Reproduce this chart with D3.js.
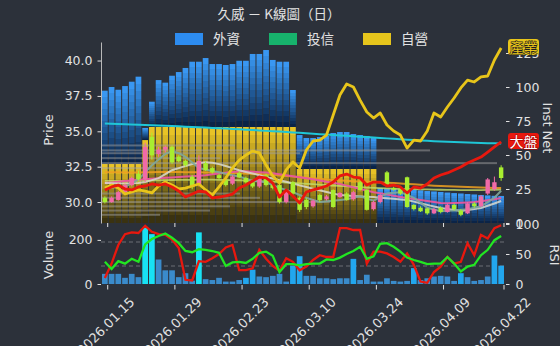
<!DOCTYPE html>
<html>
<head>
<meta charset="utf-8">
<script src="https://cdn.jsdelivr.net/npm/d3@7"></script>
<style>
  body { margin: 0; background: #2c313a; }
  svg { display: block; font-family: "DejaVu Sans", "Noto Sans CJK TC", sans-serif; }
</style>
</head>
<body>
<svg id="chart" width="560" height="346"></svg>
<script>
// trading days shown on the chart
const dates = ["2026.01.15","2026.01.16","2026.01.19","2026.01.20","2026.01.21","2026.01.22","2026.01.23","2026.01.26","2026.01.27","2026.01.28",
  "2026.01.29","2026.01.30","2026.02.02","2026.02.03","2026.02.04","2026.02.05","2026.02.06","2026.02.09","2026.02.10","2026.02.11",
  "2026.02.23","2026.02.24","2026.02.25","2026.02.26","2026.03.02","2026.03.03","2026.03.04","2026.03.05","2026.03.06","2026.03.09",
  "2026.03.10","2026.03.11","2026.03.12","2026.03.13","2026.03.16","2026.03.17","2026.03.18","2026.03.19","2026.03.20","2026.03.23",
  "2026.03.24","2026.03.25","2026.03.26","2026.03.27","2026.03.30","2026.03.31","2026.04.01","2026.04.02","2026.04.07","2026.04.08",
  "2026.04.09","2026.04.10","2026.04.13","2026.04.14","2026.04.15","2026.04.16","2026.04.17","2026.04.20","2026.04.21","2026.04.22"];
const tickDates = ["2026.01.15","2026.01.29","2026.02.23","2026.03.10","2026.03.24","2026.04.09","2026.04.22"];

// daily candles
const openP = [30.3,30.0,30.15,30.7,31.2,32.0,31.6,34.6,33.4,33.7,33.9,33.2,32.9,31.8,31.2,32.75,32.4,31.9,31.55,31.3,
  32.05,31.7,31.4,31.1,31.9,31.2,31.2,30.0,31.4,30.3,30.15,29.7,30.5,30.2,30.85,30.35,30.6,30.2,31.4,30.85,
  29.5,30.0,32.1,31.0,30.9,31.75,29.8,29.6,29.55,29.2,29.6,29.3,29.8,29.4,29.2,29.9,29.7,30.6,30.9,32.45];
const highP = [30.4,30.4,30.8,31.3,31.8,32.2,34.2,34.9,33.9,34.0,34.0,33.3,33.0,31.9,33.3,32.9,32.5,32.0,31.7,31.9,
  32.2,31.8,31.6,31.9,32.0,31.4,31.3,30.9,31.5,30.4,30.3,30.2,30.6,30.5,30.9,30.7,30.7,30.8,31.5,30.9,
  30.1,30.6,32.2,31.1,31.0,31.8,29.85,29.7,29.6,29.6,29.7,29.9,29.9,29.5,30.0,30.0,30.5,31.7,31.8,32.6];
const lowP = [29.9,29.95,30.1,30.6,31.1,31.5,31.4,33.0,33.2,33.5,32.7,32.8,32.5,30.9,31.1,32.2,32.0,31.6,31.1,31.2,
  31.7,31.3,31.0,31.0,31.1,30.9,29.9,29.9,30.5,29.3,29.5,29.6,30.0,30.1,29.6,30.3,30.1,30.1,30.8,29.4,
  29.4,29.9,31.1,30.8,30.5,29.6,29.4,29.3,29.1,29.15,29.2,29.25,29.4,29.0,29.15,29.6,29.65,30.5,30.8,31.5];
const closeP = [30.0,30.3,30.7,31.2,31.7,31.6,33.9,33.3,33.7,33.9,32.8,32.9,32.6,31.05,32.9,32.25,32.1,31.7,31.2,31.8,
  31.75,31.4,31.1,31.8,31.2,31.0,30.0,30.8,30.6,29.45,29.65,30.1,30.15,30.4,29.65,30.65,30.15,30.7,30.85,29.45,
  30.0,30.5,31.2,30.9,30.6,29.65,29.5,29.35,29.2,29.5,29.3,29.8,29.5,29.1,29.9,29.7,30.4,31.6,31.4,31.7];

// moving averages
const maCyan = [35.55,35.54,35.52,35.50,35.48,35.47,35.45,35.43,35.41,35.39,35.37,35.35,35.33,35.30,35.28,35.26,35.23,35.21,35.19,35.16,
  35.14,35.11,35.09,35.06,35.03,35.01,34.98,34.95,34.92,34.89,34.86,34.83,34.80,34.77,34.74,34.71,34.68,34.65,34.62,34.59,
  34.56,34.53,34.50,34.47,34.44,34.41,34.38,34.35,34.33,34.30,34.28,34.26,34.24,34.22,34.20,34.19,34.17,34.16,34.15,34.14];
const maOrange = [32.10,32.10,32.10,32.09,32.09,32.09,32.10,32.11,32.12,32.12,32.12,32.12,32.11,32.10,32.10,32.09,32.08,32.07,32.06,32.05,
  32.04,32.02,32.00,31.98,31.95,31.92,31.88,31.84,31.80,31.76,31.72,31.68,31.64,31.60,31.56,31.53,31.50,31.47,31.45,31.43,
  31.41,31.39,31.37,31.34,31.31,31.28,31.25,31.22,31.19,31.16,31.14,31.12,31.10,31.08,31.06,31.04,31.02,31.01,31.00,30.99];
const maPink = [31.34,31.38,31.43,31.48,31.52,31.57,31.62,31.65,31.68,31.71,31.74,31.77,31.80,31.83,31.86,31.90,31.96,32.02,32.08,32.13,
  32.18,32.17,32.14,32.11,32.08,32.04,31.97,31.90,31.83,31.76,31.69,31.61,31.52,31.44,31.36,31.27,31.16,31.04,30.92,30.81,
  30.70,30.62,30.53,30.45,30.36,30.28,30.21,30.14,30.07,30.00,29.93,29.92,29.93,29.95,29.97,30.00,30.06,30.13,30.20,30.28];
const maWhite = [31.34,31.33,31.32,31.32,31.33,31.34,31.42,31.55,31.69,31.97,32.25,32.40,32.55,32.68,32.76,32.82,32.77,32.68,32.55,32.40,
  32.25,32.13,32.02,31.90,31.78,31.66,31.55,31.43,31.31,31.18,31.06,30.94,30.83,30.71,30.60,30.49,30.46,30.43,30.40,30.37,
  30.35,30.31,30.27,30.23,30.18,30.14,30.03,29.92,29.80,29.69,29.58,29.51,29.44,29.37,29.44,29.51,29.58,29.74,29.90,30.07];
const maTeal = [31.00,31.02,31.05,31.10,31.30,31.60,32.10,32.60,33.00,33.40,33.60,33.45,33.20,32.80,32.40,32.30,32.20,32.10,32.00,31.90,
  31.80,31.65,31.50,31.45,31.40,31.20,31.00,30.85,30.70,30.50,30.30,30.15,30.00,30.05,30.10,30.15,30.20,30.30,30.40,30.25,
  30.10,30.35,30.60,30.65,30.70,30.50,30.30,29.95,29.60,29.48,29.35,29.38,29.40,29.45,29.50,29.60,29.70,30.00,30.30,30.80];
const maLime = [31.50,31.50,31.50,31.50,31.51,31.51,31.52,31.53,31.54,31.55,31.56,31.57,31.57,31.57,31.58,31.58,31.58,31.57,31.56,31.55,
  31.54,31.52,31.50,31.48,31.46,31.44,31.41,31.38,31.35,31.32,31.29,31.26,31.23,31.20,31.17,31.14,31.11,31.08,31.05,31.02,
  31.00,30.98,30.96,30.94,30.93,30.92,30.91,30.90,30.89,30.88,30.87,30.86,30.86,30.85,30.85,30.85,30.85,30.86,30.87,30.88];

// institutional net (stacked bars, right axis)
const instNames = ["外資", "投信", "自營"];
const foreignNet = [53.9,56.6,54.6,57.3,60.5,64.2,8.9,18.6,34.5,32.6,37.7,40.4,43.4,48,48,50.7,46.3,46.3,45.6,46.3,
  48.7,48.7,53.7,53.7,56.6,49.3,48,48,27.2,25,22.8,22.8,23.5,24.3,26.5,27.2,27.2,25.7,25,24.3,
  22.8,25.7,25.5,25.3,25,24.6,24.3,24,23.5,23.2,22.8,22.4,22,21.7,21.3,21,20.6,20.3,20,19.9];
const dealerNet = [43.4,43.4,43.4,43.4,43.4,43.4,61,70.6,70.6,70.6,70.6,70.6,70.6,70.6,70.6,70.6,70.6,70.6,70.6,70.6,
  70.6,70.6,70.6,70.6,70.6,70.6,70.6,70.6,70.6,39.7,39.7,39.7,39.7,39.7,39.7,39.7,39.7,39.7,39.7,39.7,
  39.7,0,0,0,0,0,0,0,0,0,0,0,0,0,0,0,0,0,0,0];

// relative strength lines (right axis)
const industryLine = [25.7,27.9,25.7,21.3,22.8,24.3,23.5,22.1,27.2,30.1,27.9,25.0,25.7,27.2,28.7,24.3,20.6,26.5,33.1,40.4,
  46.3,50.0,52.9,51.5,42.6,34.6,29.4,39.0,44.9,40.4,53.7,60.3,61.0,64.7,79.4,94.1,102.2,100.0,90.4,81.6,
  77.2,80.9,72.1,67.6,64.7,55.1,61.0,60.3,67.6,80.9,77.9,85.3,91.9,99.3,105.1,103.7,107.4,108.1,119.9,128.7];
const marketLine = [24.3,26.5,27.9,25.0,24.3,26.5,27.2,28.7,27.9,28.7,26.5,23.5,19.1,21.3,23.5,22.8,18.4,19.1,19.9,21.3,
  25.7,27.9,30.9,33.8,33.1,29.4,19.1,24.3,19.9,14.7,22.8,24.3,25.7,27.2,30.1,34.6,36.0,33.8,33.1,27.9,
  30.1,30.1,27.2,27.9,26.5,22.1,26.5,25.7,28.7,33.1,35.3,36.8,39.0,41.2,44.1,46.3,48.5,52.2,55.9,59.6];

// volume by price (horizontal gray bars)
const vpPrice = [34.0,33.65,33.45,33.1,32.75,32.4,30.6,30.3,30.0,29.7,29.4,29.1];
const vpVol = [134,329,199,119,396,79,139,159,229,129,109,59];

// lower panel
const volume = [46,46,46,28,46,31,254,226,111,62,62,31,49,15,234,22,18,28,11,11,
  18,28,65,34,31,37,46,11,83,126,37,37,26,26,22,26,26,114,18,42,
  11,11,26,14,11,14,72,18,26,34,37,34,14,49,31,14,18,34,129,83];
const rsiFast = [10,34,65,83,86,85,97,87,83,82,74,60,7,6,38,37,43,50,61,65,
  23,23,26,57,42,30,22,43,37,23,29,40,48,45,45,93,93,90,90,34,
  54,54,51,45,37,51,32,4,2,20,29,45,34,37,68,48,82,76,93,98];
const rsiSlow = [37,25,38,34,42,37,66,75,80,84,77,68,55,53,58,57,55,52,30,36,
  37,35,42,52,54,47,20,33,33,31,33,34,34,41,40,44,50,55,62,42,
  46,67,68,62,54,44,40,37,33,34,34,45,34,21,29,32,48,57,73,80];

const priceTicks = [30, 32.5, 35, 37.5, 40];
const instTicks = [0, 25, 50, 75, 100, 125];
const volTicks = [0, 200];
const rsiTicks = [0, 50, 100];

// ---- layout ----
const left = 101, right = 505;
const mainTop = 42, mainBot = 223, subTop = 224, subBot = 284;
const textColor = "#e2e2e2";

const svg = d3.select("#chart");
const defs = svg.append("defs");

const x = d3.scaleBand().domain(dates).range([left, right]).padding(0.15);
const xc = d => x(d) + x.bandwidth() / 2;
const yPrice = d3.scaleLinear().domain([28.52, 41.31]).range([mainBot, mainTop]);
const yInst = d3.scaleLinear().domain([0, 133.1]).range([mainBot, mainTop]);
const yVol = d3.scaleLinear().domain([0, 272]).range([subBot, subTop]);
const yRsi = d3.scaleLinear().domain([0, 100]).range([subBot, subTop]);
const vpX = d3.scaleLinear().domain([0, 400]).range([0, 400]);

// stepped vertical gradients for the inst bars
function stepGrad(id, top, bottom, n) {
  const g = defs.append("linearGradient").attr("id", id)
    .attr("x1", 0).attr("y1", 0).attr("x2", 0).attr("y2", 1);
  const ip = d3.interpolateRgb(top, bottom);
  for (let i = 0; i < n; i++) {
    const c = ip(i / (n - 1));
    g.append("stop").attr("offset", i / n).attr("stop-color", c);
    g.append("stop").attr("offset", (i + 1) / n).attr("stop-color", c);
  }
}
stepGrad("g-foreign", "#3997f2", "#0b2447", 12);
stepGrad("g-dealer", "#e8c326", "#3a3210", 12);

// title + legend
svg.append("text").attr("x", 279).attr("y", 19).attr("text-anchor", "middle")
  .attr("fill", textColor).style("font-size", "13.5px")
  .style("font-family", '"Noto Sans CJK TC", sans-serif')
  .text("久威 － K線圖（日）");

const legendColors = ["#2d8cf0", "#17b26c", "#e6c51c"];
const legendX = [175, 269, 363];
instNames.forEach((name, i) => {
  svg.append("rect").attr("x", legendX[i]).attr("y", 33).attr("width", 28).attr("height", 12)
    .attr("fill", legendColors[i]);
  svg.append("text").attr("x", legendX[i] + 38).attr("y", 44)
    .attr("fill", textColor).style("font-size", "13.5px")
    .style("font-family", '"Noto Sans CJK TC", sans-serif').text(name);
});

// stacked inst bars
const rows = dates.map((d, i) => ({ date: d, dealer: dealerNet[i], foreign: foreignNet[i] }));
const stacked = d3.stack().keys(["dealer", "foreign"])(rows);
svg.append("g").selectAll("g")
  .data(stacked)
  .join("g")
    .attr("fill", s => `url(#g-${s.key})`)
  .selectAll("rect")
  .data(s => s.filter(d => d[1] - d[0] > 0))
  .join("rect")
    .attr("x", d => x(d.data.date))
    .attr("width", x.bandwidth())
    .attr("y", d => yInst(d[1]))
    .attr("height", d => yInst(d[0]) - yInst(d[1]));

// volume by price
svg.append("g").selectAll("rect")
  .data(vpPrice)
  .join("rect")
    .attr("x", left)
    .attr("y", d => yPrice(d) - 1)
    .attr("width", (d, i) => vpX(vpVol[i]))
    .attr("height", 2)
    .attr("fill", "#a0a0a0")
    .attr("opacity", 0.5);

// moving averages
const priceLine = d3.line().x((d, i) => xc(dates[i])).y(d => yPrice(d));
const mas = [
  { v: maLime, c: "#c4df6a", w: 1.8, o: 0.8 },
  { v: maOrange, c: "#f0a020", w: 2, o: 0.85 },
  { v: maCyan, c: "#1fc6d6", w: 2, o: 1 },
  { v: maPink, c: "#e8559e", w: 2, o: 0.95 },
  { v: maWhite, c: "#d9d9cf", w: 2, o: 0.85 },
  { v: maTeal, c: "#7fa79b", w: 2, o: 0.9 }
];
svg.append("g").selectAll("path")
  .data(mas)
  .join("path")
    .attr("d", m => priceLine(m.v))
    .attr("fill", "none")
    .attr("stroke", m => m.c)
    .attr("stroke-width", m => m.w)
    .attr("opacity", m => m.o);

// candles
const up = "#f06aa8", down = "#a8ee30";
const candle = svg.append("g").selectAll("g")
  .data(dates)
  .join("g");
candle.append("line")
  .attr("x1", d => xc(d)).attr("x2", d => xc(d))
  .attr("y1", (d, i) => yPrice(highP[i])).attr("y2", (d, i) => yPrice(lowP[i]))
  .attr("stroke", (d, i) => closeP[i] >= openP[i] ? up : down)
  .attr("stroke-width", 1);
candle.append("rect")
  .attr("x", d => xc(d) - 2.2)
  .attr("width", 4.4)
  .attr("y", (d, i) => yPrice(Math.max(openP[i], closeP[i])))
  .attr("height", (d, i) => Math.max(1, Math.abs(yPrice(openP[i]) - yPrice(closeP[i]))))
  .attr("fill", (d, i) => closeP[i] >= openP[i] ? up : down);

// industry / market lines
const instLine = d3.line().x((d, i) => xc(dates[i])).y(d => yInst(d));
svg.append("path").attr("d", instLine(industryLine))
  .attr("fill", "none").attr("stroke", "#e8c51a").attr("stroke-width", 2.8)
  .attr("stroke-linejoin", "round");
svg.append("path").attr("d", instLine(marketLine))
  .attr("fill", "none").attr("stroke", "#e8180e").attr("stroke-width", 2.8)
  .attr("stroke-linejoin", "round");

// axes
function styleAxis(g) {
  g.attr("font-family", null).attr("font-size", null);
  g.selectAll("text").attr("fill", textColor).style("font-size", "12.5px");
  g.selectAll("line").attr("stroke", textColor);
}
svg.append("g").attr("transform", `translate(${left},0)`)
  .call(d3.axisLeft(yPrice).tickValues(priceTicks).tickFormat(d3.format(".1f")).tickSize(3.5).tickPadding(5).tickSizeOuter(0))
  .call(styleAxis)
  .call(g => g.select(".domain").attr("stroke", "#b8b8b8"));
svg.append("g").attr("transform", `translate(${right + 1},0)`)
  .call(d3.axisRight(yInst).tickValues(instTicks).tickSize(3.5).tickPadding(6))
  .call(styleAxis)
  .call(g => g.select(".domain").remove());
svg.append("g")
  .call(d3.axisBottom(x).tickValues(tickDates).tickFormat("").tickSize(4))
  .call(g => g.attr("transform", `translate(${x.bandwidth() / 2},${mainBot})`))
  .call(styleAxis)
  .call(g => g.select(".domain").remove());

// lower panel: RSI guide lines
svg.append("g").selectAll("line")
  .data([70, 30])
  .join("line")
    .attr("x1", left).attr("x2", right)
    .attr("y1", d => yRsi(d)).attr("y2", d => yRsi(d))
    .attr("stroke", "#6a6e75").attr("stroke-dasharray", "4,3").attr("stroke-width", 1);

// volume bars
svg.append("g").selectAll("rect")
  .data(volume)
  .join("rect")
    .attr("x", (d, i) => x(dates[i]))
    .attr("width", x.bandwidth())
    .attr("y", d => yVol(d))
    .attr("height", d => yVol(0) - yVol(d))
    .attr("fill", (d, i) => {
      if (d > 150) return "#18e2f4";
      const prev = volume.slice(Math.max(0, i - 5), i);
      if (prev.length && d >= 1.6 * d3.mean(prev)) return "#22a6ee";
      return "#3a8bcb";
    });

// RSI lines
const rsiLine = d3.line().x((d, i) => xc(dates[i])).y(d => yRsi(d));
svg.append("path").attr("d", rsiLine(rsiFast))
  .attr("fill", "none").attr("stroke", "#e8180e").attr("stroke-width", 2.3);
svg.append("path").attr("d", rsiLine(rsiSlow))
  .attr("fill", "none").attr("stroke", "#22e622").attr("stroke-width", 2.3);

svg.append("g").attr("transform", `translate(${left},0)`)
  .call(d3.axisLeft(yVol).tickValues(volTicks).tickSize(3.5).tickPadding(5))
  .call(styleAxis)
  .call(g => g.select(".domain").remove());
svg.append("g").attr("transform", `translate(${right + 1},0)`)
  .call(d3.axisRight(yRsi).tickValues(rsiTicks).tickSize(3.5).tickPadding(6))
  .call(styleAxis)
  .call(g => g.select(".domain").remove());
svg.append("g")
  .call(d3.axisBottom(x).tickValues(tickDates).tickFormat("").tickSize(4.5))
  .call(g => g.attr("transform", `translate(${x.bandwidth() / 2},${subBot + 1})`))
  .call(styleAxis)
  .call(g => g.select(".domain").remove());

// rotated date labels (cut by the lower edge, as in the original)
svg.append("g").selectAll("text")
  .data(tickDates)
  .join("text")
    .attr("transform", d => `translate(${xc(d) + 1},326) rotate(-45)`)
    .attr("text-anchor", "middle")
    .attr("dominant-baseline", "central")
    .attr("fill", textColor)
    .style("font-size", "13px")
    .text(d => d);

// axis titles
function axisTitle(t, tx, ty, rot) {
  svg.append("text").attr("transform", `translate(${tx},${ty}) rotate(${rot})`)
    .attr("text-anchor", "middle").attr("dominant-baseline", "central")
    .attr("fill", textColor).style("font-size", "13px").text(t);
}
axisTitle("Price", 48, 130, -90);
axisTitle("Volume", 48, 255, -90);
axisTitle("Inst Net", 547, 128, 90);
axisTitle("RSI", 554, 255, 90);

// end labels
function endLabel(t, yv, fill, textFill, stroke) {
  const cy = yInst(yv) - 1;
  svg.append("rect").attr("x", 508).attr("y", cy - 8).attr("width", 31).attr("height", 16)
    .attr("rx", 3).attr("fill", fill);
  svg.append("text").attr("x", 523.5).attr("y", cy).attr("text-anchor", "middle")
    .attr("dominant-baseline", "central")
    .style("font-family", '"Noto Sans CJK TC", sans-serif').style("font-size", "14px")
    .attr("fill", textFill).attr("stroke", stroke).attr("stroke-width", 1.2)
    .attr("paint-order", "stroke").text(t);
}
endLabel("產業", industryLine[industryLine.length - 1], "#e8c51a", "#e8c51a", "#1e1e1e");
endLabel("大盤", marketLine[marketLine.length - 1], "#e8180e", "#ffffff", "#b00000");
</script>
</body>
</html>
